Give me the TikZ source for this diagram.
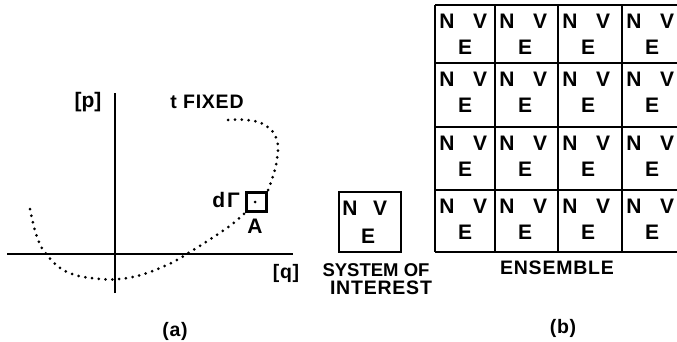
\documentclass[tikz,border=0pt]{standalone}
\usepackage{fontspec}
\setmainfont{Liberation Sans}
\begin{document}
\begin{tikzpicture}[x=1pt,y=-1pt,
  lbl/.style={font=\fontsize{21}{24}\selectfont\bfseries, inner sep=0pt, anchor=center},
  wlbl/.style={font=\fontsize{19.5}{23}\selectfont\bfseries\addfontfeature{LetterSpace=4}, inner sep=0pt, anchor=center},
  axisline/.style={line width=2.3pt},
  gridline/.style={line width=2.3pt},
  dotcurve/.style={line width=3pt, line cap=round, dash pattern=on 0pt off 6.8pt}]
\useasboundingbox (0,0) rectangle (677,342);

% ---- (a) phase space ----
\coordinate (yb) at (115,293);
\coordinate (yt) at (115,93);
\coordinate (xl) at (7,254);
\coordinate (xr) at (293,254);
\draw[axisline] (yb) -- (yt);
\draw[axisline] (xl) -- (xr);

\begin{scope}
\clip (0,0) rectangle (677,342) (245,191) rectangle (268,213);
\end{scope}
\draw[dotcurve] plot[smooth, tension=0.65] coordinates {
  (30,209) (37,237) (47,255) (67,272) (100,279) (133,277) (167,265)
  (190,252) (227,228) (246,212)};
\draw[dotcurve] plot[smooth, tension=0.65] coordinates {
  (268,190) (276,165) (277,140) (265,125) (247,120) (228,120)};

\node[lbl] (p) at (88,102) {[p]};
\node[wlbl] (tf) at (207,102) {t FIXED};
\node[lbl] (dg) at (226,200) {d\kern2ptΓ};
\node[draw, line width=2.3pt, minimum width=20pt, minimum height=19pt, inner sep=0pt] (box) at (256.5,202) {};
\fill (255,202) circle (1.5pt);
\node[lbl] (A) at (255,226) {A};
\node[wlbl] (q) at (286,273) {[q]};
\node[wlbl] (la) at (175,331) {(a)};

% ---- system of interest ----
\node[draw, line width=2.3pt, minimum width=62pt, minimum height=60pt, inner sep=0pt] (sys) at (370,222) {};
\node[lbl] (sN) at (350,208) {N};
\node[lbl] (sV) at (380,208) {V};
\node[lbl] (sE) at (368,236) {E};
\node[font=\fontsize{18.5}{22}\selectfont\bfseries, inner sep=0pt] (sys1) at (376,270) {SYSTEM OF};
\node[wlbl] (sys2) at (381,288) {INTEREST};

% ---- (b) ensemble ----
\foreach \yy in {5,63,127,190,252} \draw[gridline] (435,\yy) -- (677,\yy);
\foreach \xx in {435,495,558,622} \draw[gridline] (\xx,5) -- (\xx,252);
\foreach \xx [count=\i] in {435,495,558,622} {
  \foreach \yy [count=\j] in {5,63,127,190} {
    \node[lbl] (N\i\j) at (\xx+12,\yy+16) {N};
    \node[lbl] (V\i\j) at (\xx+45,\yy+16) {V};
    \node[lbl] (E\i\j) at (\xx+30,\yy+42) {E};
  }
}
\node[wlbl] (ens) at (557,268) {ENSEMBLE};
\node[wlbl] (lb) at (563,328) {(b)};
\end{tikzpicture}
\end{document}
